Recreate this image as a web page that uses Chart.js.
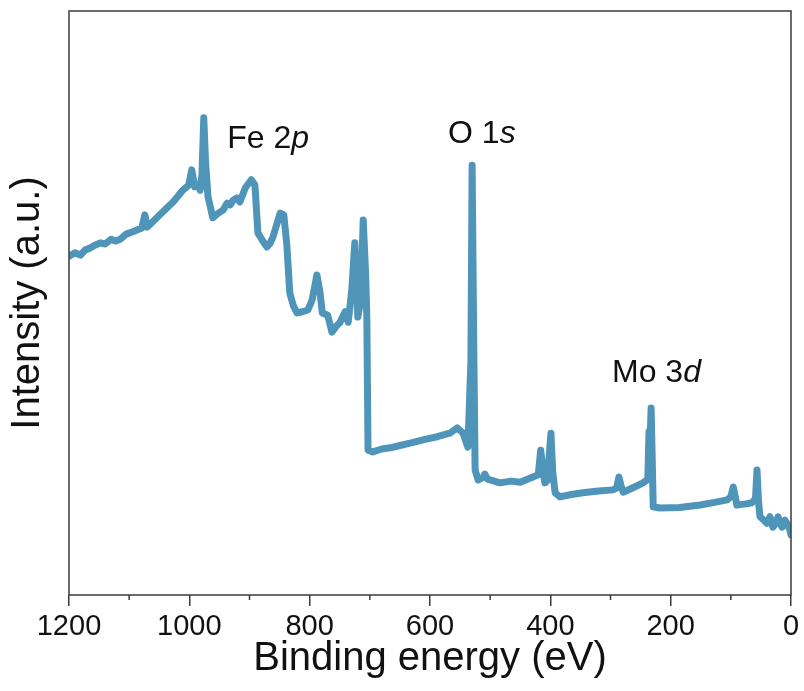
<!DOCTYPE html>
<html>
<head>
<meta charset="utf-8">
<title>XPS survey</title>
<script src="https://cdn.jsdelivr.net/npm/chart.js@4.4.1/dist/chart.umd.min.js"></script>
<style>
  html, body { margin: 0; padding: 0; background: #fff; }
  #wrap { width: 804px; height: 691px; position: relative; }
</style>
</head>
<body>
<div id="wrap"><canvas id="surveyChart"></canvas></div>
<script>
// Survey spectrum: binding energy (eV) and intensity (a.u.)
const energy = [
  1200, 1190, 1181, 1173, 1165, 1157, 1148, 1140, 1130, 1122, 1115, 1105, 1094, 1085, 1079, 1074, 1070, 1065,
  1057, 1049, 1040, 1027, 1018, 1011, 1001, 996, 991, 985, 982, 979, 976, 973, 969, 961, 953, 944, 937, 932,
  927, 921, 916, 907, 897, 891, 886, 879, 871, 866, 861, 849, 843, 838, 833, 827, 821, 812, 803, 796, 788,
  783, 779, 770, 763, 756, 750, 741, 736, 730, 725, 722, 720, 715, 711, 707, 705, 703, 695, 680, 666, 650,
  633, 610, 588, 567, 555, 545, 537, 532, 530, 527, 525, 520, 512, 509, 504, 500, 484, 465, 450, 429, 420,
  416, 412, 409, 405, 401, 399, 396, 392, 384, 365, 346, 320, 296, 290, 286, 282, 279, 260, 246, 238, 236,
  234, 232.5, 231, 229, 218, 185, 151, 125, 106, 100, 96, 92, 90, 75, 65, 59, 56.5, 54, 51.5, 45, 40, 35,
  30, 25, 21.6, 15, 10, 7, 2, 0
];
const intensity = [
  58.0, 58.6, 58.2, 59.1, 59.4, 59.9, 60.3, 60.1, 60.9, 60.6, 60.9, 61.8, 62.2, 62.6, 62.8, 65.1, 63.0, 63.5,
  64.3, 65.1, 66.0, 67.3, 68.4, 69.3, 70.2, 72.8, 69.9, 70.4, 69.3, 72.0, 81.7, 74.0, 68.2, 64.6, 65.3, 65.9, 67.1, 66.8,
  67.6, 68.0, 67.3, 69.7, 71.1, 70.2, 62.0, 60.8, 59.6, 60.2, 61.3, 65.4, 65.1, 60.0, 51.7, 49.5, 48.3, 48.5, 48.8, 50.5, 54.8,
  52.0, 48.3, 47.9, 45.0, 46.0, 46.6, 48.5, 46.7, 52.2, 60.3, 54.0, 47.6, 50.5, 64.2, 55.0, 47.6, 24.8, 24.5, 25.0, 25.2, 25.6,
  26.0, 26.6, 27.1, 27.7, 28.6, 27.7, 25.3, 40.0, 73.6, 40.0, 21.4, 19.7, 20.1, 20.7, 19.8, 19.7, 19.2, 19.5, 19.3, 20.2, 20.6,
  24.8, 21.0, 19.2, 19.6, 25.0, 27.7, 21.0, 17.5, 16.8, 17.2, 17.5, 17.8, 18.0, 18.3, 20.2, 18.5, 17.6, 18.5, 19.2, 19.8, 28.0,
  27.0, 32.0, 25.0, 15.1, 14.9, 15.0, 15.4, 15.9, 16.3, 16.8, 18.5, 16.5, 15.4, 15.6, 15.8, 16.5, 21.4, 16.0, 13.4, 12.8, 12.3, 13.4,
  11.6, 12.3, 13.4, 11.6, 12.8, 12.3, 11.2, 10.3
];
const xTicks = [1200, 1000, 800, 600, 400, 200, 0];
const xMinorTicks = [1100, 900, 700, 500, 300, 100];

// peak labels: [plain part, italic part, energy, intensity at baseline]
const peakLabels = [
  ['Fe 2', 'p', 937, 76.5],
  ['O 1', 's', 570, 77.4],
  ['Mo 3', 'd', 297.5, 36.5]
];

const FONT = '"Liberation Sans", Arial, sans-serif';
const AXIS_COLOR = '#3a3a3a';

const framePlugin = {
  id: 'frame',
  afterDraw(chart) {
    const { ctx, chartArea: a, scales } = chart;
    ctx.save();
    ctx.strokeStyle = AXIS_COLOR;
    ctx.lineWidth = 1.5;
    ctx.strokeRect(a.left, a.top, a.right - a.left, a.bottom - a.top);

    // short minor ticks between the labelled ones
    ctx.beginPath();
    xMinorTicks.forEach(v => {
      const px = scales.x.getPixelForValue(v);
      ctx.moveTo(px, a.bottom);
      ctx.lineTo(px, a.bottom + 5);
    });
    ctx.stroke();

    // peak names with italic orbital letter
    ctx.fillStyle = '#111';
    ctx.textBaseline = 'alphabetic';
    ctx.textAlign = 'left';
    peakLabels.forEach(([plain, ital, e, i]) => {
      const px = scales.x.getPixelForValue(e);
      const py = scales.y.getPixelForValue(i);
      ctx.font = '32px ' + FONT;
      ctx.fillText(plain, px, py);
      const w = ctx.measureText(plain).width;
      ctx.font = 'italic 32px ' + FONT;
      ctx.fillText(ital, px + w, py);
    });
    ctx.restore();
  }
};

const ctx = document.getElementById('surveyChart').getContext('2d');
new Chart(ctx, {
  type: 'line',
  data: {
    datasets: [{
      label: 'Survey',
      data: energy.map((e, k) => ({ x: e, y: intensity[k] })),
      borderColor: '#4f95b9',
      borderWidth: 7,
      borderJoinStyle: 'round',
      borderCapStyle: 'round',
      pointRadius: 0,
      tension: 0,
      fill: false
    }]
  },
  options: {
    responsive: true,
    maintainAspectRatio: false,
    animation: false,
    layout: { padding: { top: 11, right: 13, left: 0, bottom: 0 } },
    plugins: {
      legend: { display: false },
      tooltip: { enabled: false }
    },
    scales: {
      x: {
        type: 'linear',
        reverse: true,
        min: 0,
        max: 1200,
        afterBuildTicks: s => { s.ticks = xTicks.map(v => ({ value: v })); },
        afterFit: s => { s.height = 96; },
        border: { display: false },
        grid: {
          drawOnChartArea: false,
          drawTicks: true,
          tickLength: 11,
          color: AXIS_COLOR,
          lineWidth: 1.5
        },
        ticks: {
          color: '#111',
          padding: 4,
          maxRotation: 0,
          autoSkip: false,
          callback: v => String(v),
          font: { family: FONT, size: 29 }
        },
        title: {
          display: true,
          text: 'Binding energy (eV)',
          color: '#111',
          padding: { top: 0, bottom: 8 },
          font: { family: FONT, size: 40 }
        }
      },
      y: {
        min: 0,
        max: 100,
        afterFit: s => { s.width = 69; },
        border: { display: false },
        grid: { display: false },
        ticks: { display: false },
        title: {
          display: true,
          text: 'Intensity (a.u.)',
          color: '#111',
          padding: { top: 3.5, bottom: 0 },
          font: { family: FONT, size: 40 }
        }
      }
    }
  },
  plugins: [framePlugin]
});
</script>
</body>
</html>
